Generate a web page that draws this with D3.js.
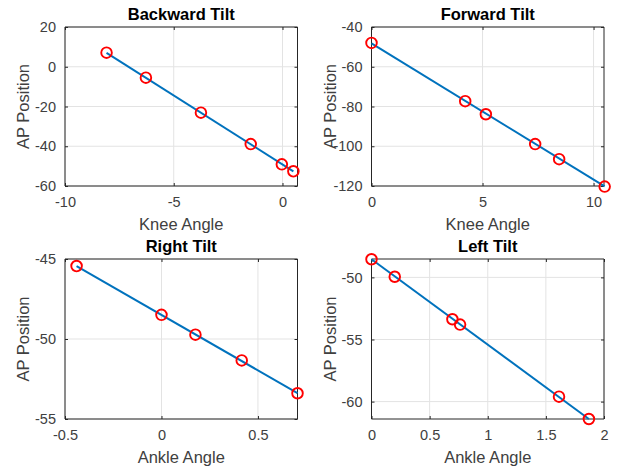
<!DOCTYPE html>
<html>
<head>
<meta charset="utf-8">
<script src="https://cdn.jsdelivr.net/npm/d3@7"></script>
<style>
  html, body { margin: 0; padding: 0; background: #fff; }
  svg { display: block; }
  text { font-family: "Liberation Sans", Arial, Helvetica, sans-serif; }
</style>
</head>
<body>
<svg id="chart" width="618" height="466"></svg>
<script>
// ---- Data ----
const titles = ["Backward Tilt", "Forward Tilt", "Right Tilt", "Left Tilt"];
const xLabels = ["Knee Angle", "Knee Angle", "Ankle Angle", "Ankle Angle"];
const yLabel = "AP Position";

const backwardX = [-8.09, -6.28, -3.75, -1.46, -0.03, 0.5];
const backwardY = [7.1, -5.5, -23.1, -38.9, -49.1, -52.6];
const backwardFitX = [-8.09, 0.5];
const backwardFitY = [7.0, -52.6];

const forwardX = [0, 4.22, 5.15, 7.37, 8.45, 10.5];
const forwardY = [-48.0, -77.3, -83.9, -98.9, -106.5, -120.3];
const forwardFitX = [0, 10.5];
const forwardFitY = [-48.2, -120.2];

const rightX = [-0.44, 0, 0.176, 0.416, 0.705];
const rightY = [-45.44, -48.49, -49.73, -51.34, -53.39];
const rightFitX = [-0.44, 0.705];
const rightFitY = [-45.45, -53.38];

const leftX = [0, 0.2, 0.696, 0.762, 1.613, 1.87];
const leftY = [-48.54, -49.95, -53.37, -53.80, -59.6, -61.4];
const leftFitX = [0, 1.87];
const leftFitY = [-48.54, -61.4];

// axis limits and ticks
const xDomains = [[-10, 0.69], [0, 10.47], [-0.5, 0.705], [0, 2]];
const yDomains = [[-60, 20], [-120, -40], [-55, -45], [-61.4, -48.52]];
const xTicks = [[-10, -5, 0], [0, 5, 10], [-0.5, 0, 0.5], [0, 0.5, 1, 1.5, 2]];
const yTicks = [[-60, -40, -20, 0, 20], [-120, -100, -80, -60, -40], [-55, -50, -45], [-60, -55, -50]];

const pointsX = [backwardX, forwardX, rightX, leftX];
const pointsY = [backwardY, forwardY, rightY, leftY];
const fitsX = [backwardFitX, forwardFitX, rightFitX, leftFitX];
const fitsY = [backwardFitY, forwardFitY, rightFitY, leftFitY];

// ---- Layout ----
const boxes = [
  {x0: 65, x1: 297.5, y0: 27, y1: 186},
  {x0: 371.5, x1: 604, y0: 27, y1: 186},
  {x0: 65, x1: 297.5, y0: 259, y1: 419},
  {x0: 371.5, x1: 604, y0: 259, y1: 419}
];

const svg = d3.select("#chart");
const axisColor = "#262626";
const tickTextColor = "#404040";
const gridColor = "#e3e3e3";
const lineColor = "#0072BD";

boxes.forEach((b, i) => {
  const x = d3.scaleLinear().domain(xDomains[i]).range([b.x0, b.x1]);
  const y = d3.scaleLinear().domain(yDomains[i]).range([b.y1, b.y0]);
  const g = svg.append("g");

  // grid
  g.selectAll(".gx").data(xTicks[i]).enter().append("line")
    .attr("x1", d => x(d)).attr("x2", d => x(d))
    .attr("y1", b.y0).attr("y2", b.y1)
    .attr("stroke", gridColor).attr("stroke-width", 1);
  g.selectAll(".gy").data(yTicks[i]).enter().append("line")
    .attr("x1", b.x0).attr("x2", b.x1)
    .attr("y1", d => y(d)).attr("y2", d => y(d))
    .attr("stroke", gridColor).attr("stroke-width", 1);

  // axes (ticks inward)
  const fmt = d3.format("");
  const tl = 3;
  const bottom = g.append("g").attr("transform", `translate(0,${b.y1})`)
    .call(d3.axisBottom(x).tickValues(xTicks[i]).tickSize(-tl).tickPadding(11).tickFormat(d => fmt(d).replace("−", "-")));
  const top = g.append("g").attr("transform", `translate(0,${b.y0})`)
    .call(d3.axisTop(x).tickValues(xTicks[i]).tickSize(-tl).tickFormat(""));
  const left = g.append("g").attr("transform", `translate(${b.x0},0)`)
    .call(d3.axisLeft(y).tickValues(yTicks[i]).tickSize(-tl).tickPadding(9).tickFormat(d => fmt(d).replace("−", "-")));
  const right = g.append("g").attr("transform", `translate(${b.x1},0)`)
    .call(d3.axisRight(y).tickValues(yTicks[i]).tickSize(-tl).tickFormat(""));
  [bottom, top, left, right].forEach(a => {
    a.attr("font-size", null).attr("font-family", null);
    a.select(".domain").attr("stroke", axisColor).attr("stroke-width", 1);
    a.selectAll(".tick line").attr("stroke", axisColor);
    a.selectAll("text").attr("fill", tickTextColor).style("font-size", "14.5px")
      .style("font-family", "'Liberation Sans', Arial, sans-serif");
  });
  bottom.selectAll(".domain").attr("d", `M${b.x0},0H${b.x1}`);
  top.selectAll(".domain").attr("d", `M${b.x0},0H${b.x1}`);
  left.selectAll(".domain").attr("d", `M0,${b.y1}V${b.y0}`);
  right.selectAll(".domain").attr("d", `M0,${b.y1}V${b.y0}`);

  // fit line
  const fitData = fitsX[i].map((v, k) => [v, fitsY[i][k]]);
  g.append("path").datum(fitData)
    .attr("d", d3.line().x(d => x(d[0])).y(d => y(d[1])))
    .attr("fill", "none").attr("stroke", lineColor).attr("stroke-width", 2);

  // markers
  const pts = pointsX[i].map((v, k) => [v, pointsY[i][k]]);
  g.selectAll(".pt").data(pts).enter().append("circle")
    .attr("cx", d => x(d[0])).attr("cy", d => y(d[1])).attr("r", 5.3)
    .attr("fill", "none").attr("stroke", "#ff0000").attr("stroke-width", 1.9);

  // title
  g.append("text").attr("x", (b.x0 + b.x1) / 2).attr("y", b.y0 - 7)
    .attr("text-anchor", "middle").attr("font-weight", "bold")
    .attr("font-size", "16.5px").attr("fill", "#000").text(titles[i]);

  // x label
  g.append("text").attr("x", (b.x0 + b.x1) / 2).attr("y", b.y1 + 44)
    .attr("text-anchor", "middle").attr("font-size", "16.5px")
    .attr("fill", tickTextColor).text(xLabels[i]);

  // y label
  const ly = (b.y0 + b.y1) / 2;
  const lx = b.x0 - 36;
  g.append("text").attr("transform", `translate(${lx},${ly}) rotate(-90)`)
    .attr("text-anchor", "middle").attr("font-size", "16.5px")
    .attr("fill", tickTextColor).text(yLabel);
});
</script>
</body>
</html>
